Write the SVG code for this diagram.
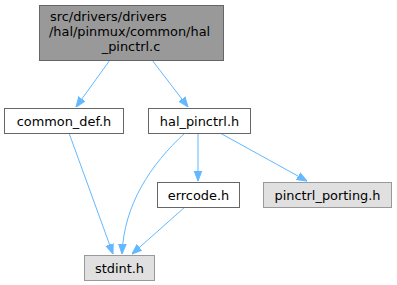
<svg xmlns="http://www.w3.org/2000/svg" width="397" height="285" viewBox="0 0 397 285">
<defs>
<style>
text{font-family:"DejaVu Sans",sans-serif;font-size:12.9px;fill:#000}
.e{fill:none;stroke:#63b8ff;stroke-width:1}
.n{fill:#fff;stroke:#666}
.g{fill:#e0e0e0;stroke:#999}
.t{fill:#999;stroke:#666}
</style>
<marker id="a" viewBox="0 0 10 10" refX="10" refY="5" markerWidth="10" markerHeight="10" markerUnits="userSpaceOnUse" orient="auto">
<path d="M0,1.2L10,5L0,8.8z" fill="#63b8ff" stroke="#63b8ff"/>
</marker>
</defs>
<rect width="397" height="285" fill="#fff"/>
<g id="edges">
<path class="e" marker-end="url(#a)" d="M110,60L76,107"/>
<path class="e" marker-end="url(#a)" d="M152,60L188,107"/>
<path class="e" marker-end="url(#a)" d="M69,133L113,254"/>
<path class="e" marker-end="url(#a)" d="M185,133C150,165 124,205 122,254"/>
<path class="e" marker-end="url(#a)" d="M198,133L198,181"/>
<path class="e" marker-end="url(#a)" d="M220,133L307,181"/>
<path class="e" marker-end="url(#a)" d="M185,207L132,254"/>
</g>
<g id="n0"><rect class="t" x="39.5" y="5.5" width="184" height="55"/>
<text x="50" y="20.5">src/drivers/drivers</text>
<text x="49" y="35.5">/hal/pinmux/common/hal</text>
<text x="131" y="50.5" text-anchor="middle">_pinctrl.c</text></g>
<g id="n1"><rect class="n" x="4.5" y="108.5" width="119" height="25"/><text x="64" y="125.5" text-anchor="middle">common_def.h</text></g>
<g id="n2"><rect class="n" x="148.5" y="108.5" width="102" height="25"/><text x="199.5" y="125.5" text-anchor="middle">hal_pinctrl.h</text></g>
<g id="n3"><rect class="n" x="157.5" y="182.5" width="82" height="25"/><text x="198.5" y="199.5" text-anchor="middle">errcode.h</text></g>
<g id="n4"><rect class="g" x="263.5" y="182.5" width="128" height="25"/><text x="327.5" y="199.5" text-anchor="middle">pinctrl_porting.h</text></g>
<g id="n5"><rect class="g" x="84.5" y="255.5" width="70" height="25"/><text x="119.5" y="272.5" text-anchor="middle">stdint.h</text></g>
</svg>
